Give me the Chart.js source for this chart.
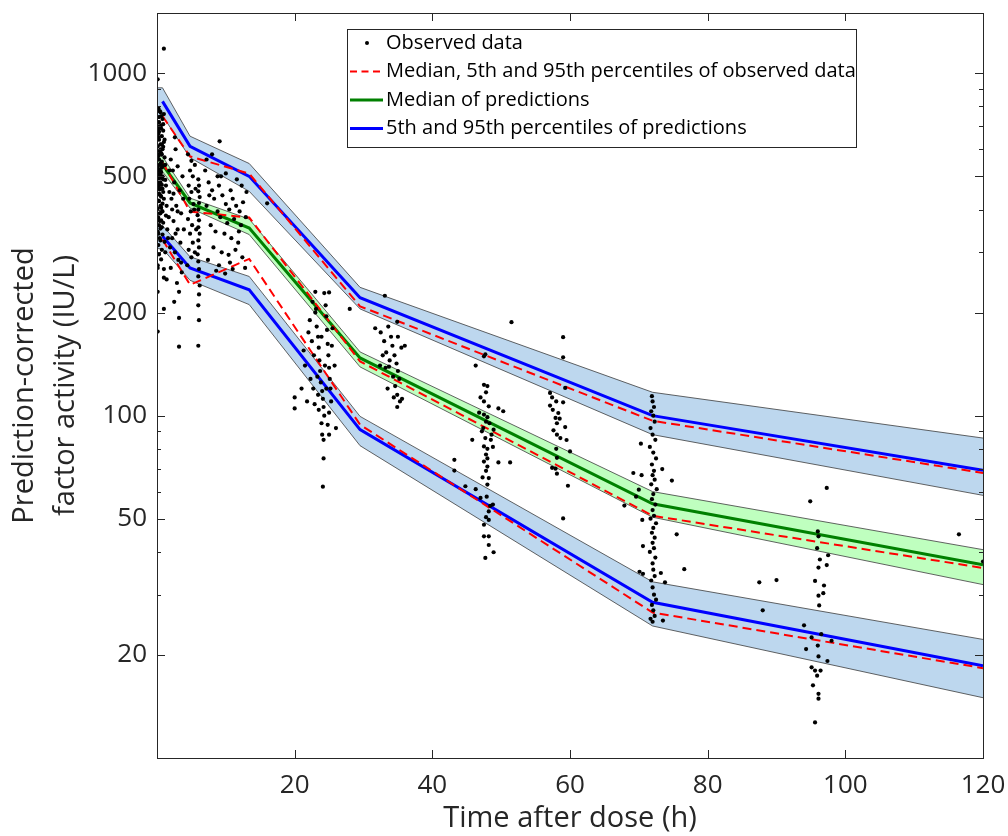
<!DOCTYPE html>
<html>
<head>
<meta charset="utf-8">
<title>VPC</title>
<script src="https://cdn.jsdelivr.net/npm/chart.js@4.4.1/dist/chart.umd.min.js"></script>
<style>
  html, body { margin: 0; padding: 0; background: #fff; }
  canvas { display: block; }
</style>
</head>
<body>
<canvas id="vpcChart" width="1008" height="836"></canvas>
<script>
// bins (h) where the percentile lines are computed
const binTimes = [0.8, 4.8, 13.4, 29.5, 72, 120];
// prediction percentiles
const predP95 = [828, 612, 500, 221, 100, 69.2];
const predP50 = [541, 418, 353, 147.4, 55.3, 36.7];
const predP05 = [334, 270, 233, 91, 28.5, 18.6];
// observed percentiles
const obsP95 = [749, 572, 509, 208.6, 96.6, 68.0];
const obsP50 = [550, 394.5, 379, 144, 51.0, 35.9];
const obsP05 = [327, 241, 287, 94.1, 26.6, 18.3];

// confidence intervals around the prediction percentiles
const bandTimes = [0, 0.8, 4.8, 13.4, 29.5, 72, 120];
const p95Hi = [907, 907, 655, 545, 237, 117, 86];
const p95Lo = [752, 752, 567, 452, 205, 88, 58.5];
const p50Hi = [571, 571, 432, 375, 153.5, 60, 40.6];
const p50Lo = [516, 516, 404, 338, 138.8, 50.5, 32.1];
const p05Hi = [359, 359, 291, 255, 99.5, 32.7, 22.2];
const p05Lo = [307.5, 307.5, 248.5, 211, 81.7, 24.3, 15.0];

// observed data [time, activity]
const obsEarly = [[0.2,790],[0.5,770],[0.3,745],[0.8,735],[0.1,720],[0.6,705],[0.4,690],[0.9,680],[0.2,665],[0.7,655],[0.3,640],[1.0,630],[0.5,620],[0.1,612],[0.8,600],[0.4,592],[0.6,585],[0.2,575],[1.1,568],[0.3,560],[0.7,552],[0.5,545],[0.9,538],[0.1,530],[0.4,522],[0.6,515],[0.2,508],[0.8,500],[0.3,494],[1.2,488],[0.5,480],[0.7,472],[0.1,465],[0.4,458],[0.9,450],[0.2,443],[0.6,436],[1.0,430],[0.3,423],[0.8,416],[0.5,410],[0.1,403],[0.7,396],[0.4,390],[1.3,384],[0.2,378],[0.6,372],[0.9,366],[0.3,360],[0.5,352],[0.1,345],[0.8,338],[0.4,330],[1.1,322],[0.2,315],[0.7,305],[0.3,296],[0.6,286],[0.1,275],[0.3,720],[0.6,690],[0.2,650],[0.5,600],[0.3,580],[0.7,530],[0.2,520],[0.4,505],[0.6,495],[0.3,470],[0.8,460],[0.5,440],[0.2,425],[0.6,405],[0.4,370],[0.7,355],[0.2,340],[0.5,325],[1.0,760],[0.9,610],[1.2,540],[1.3,470],[1.4,410],[1.5,350],[1.2,300],[1.0,268],[1.0,1180],[0.1,960],[0.1,270],[1.0,253],[1.0,205],[0.1,176],[0.1,230],[1.4,250],[0.4,775],[0.1,680],[0.7,620],[0.2,560],[0.5,510],[0.9,490],[0.1,480],[0.6,460],[0.3,445],[0.8,395],[0.1,380],[0.5,390],[0.4,540],[0.2,700],[0.6,750],[0.9,710],[0.3,675],[0.7,580],[1.1,640],[0.1,570]];
const obs3h = [[2.0,560],[2.3,520],[2.7,600],[3.0,535],[2.5,480],[3.3,455],[2.1,430],[2.8,410],[3.5,390],[2.4,370],[3.0,350],[2.2,330],[3.4,320],[2.6,300],[3.1,285],[2.0,270],[3.6,262],[2.9,244],[3.2,230],[2.5,215],[3.2,193],[3.2,159],[2.2,400],[1.8,450],[1.7,380],[3.8,430],[3.9,350],[3.7,500],[1.9,310],[2.6,650],[1.8,520],[2.4,445],[3.0,395],[1.6,330],[2.7,340],[3.5,280]];
const obs5h = [[4.5,580],[5.0,555],[4.8,520],[5.2,500],[4.6,470],[5.0,450],[4.7,430],[5.3,415],[4.9,395],[4.5,375],[5.1,360],[4.8,340],[5.2,320],[4.6,305],[5.0,290],[4.4,275],[6.0,490],[6.1,470],[6.0,452],[6.2,435],[6.1,418],[6.0,400],[5.9,385],[6.1,372],[6.0,355],[6.2,340],[6.0,325],[6.1,310],[5.9,296],[6.0,282],[6.1,268],[6.0,255],[6.2,240],[6.1,226],[6.0,210],[6.1,190],[6.0,160],[5.5,540],[5.6,460],[5.4,400],[5.7,350],[5.5,300]];
const obs12h = [[7.0,520],[7.5,480],[8.0,455],[8.3,430],[7.2,410],[8.8,395],[9.0,470],[9.5,440],[10.0,415],[10.5,400],[11.0,430],[11.5,410],[12.0,395],[12.5,420],[9.2,380],[10.2,365],[11.2,375],[12.2,360],[7.8,360],[8.5,345],[9.8,340],[10.8,330],[11.8,320],[8.2,310],[9.4,300],[10.4,295],[11.4,305],[12.4,290],[7.4,285],[9.0,275],[10.6,280],[8.6,265],[9.9,260],[11.0,268],[12.8,270],[9.1,633],[7.2,560],[8.0,580],[10.0,510],[11.6,490],[12.3,470],[13.0,450],[7.6,440],[9.3,500],[10.7,455],[8.8,500],[11.9,345],[12.9,380],[16.0,417]];
const obs24h = [[20.0,113],[20.0,105],[21.0,120],[21.3,155],[21.5,140],[22.0,175],[22.2,190],[22.5,165],[22.8,150],[23.0,200],[23.2,182],[23.4,170],[23.5,158],[23.6,145],[23.7,135],[23.8,125],[24.0,118],[24.1,112],[24.2,106],[24.3,100],[23.9,95],[24.0,88],[24.5,210],[24.6,195],[24.7,178],[24.8,162],[24.9,150],[25.0,138],[25.1,128],[25.2,120],[25.3,110],[25.0,102],[24.8,94],[25.4,160],[25.5,180],[25.8,140],[26.0,92],[25.0,88],[23.0,230],[22.6,215],[24.3,228],[25.0,229],[23.3,130],[22.7,120],[21.8,110],[23.5,104],[24.2,85],[24.2,75],[24.1,62],[22.3,128],[28.0,205],[23.1,205],[24.4,140],[23.9,170],[24.6,120],[23.4,115],[22.9,108]];
const obs34h = [[31.7,180],[32.5,175],[33.0,165],[33.3,153],[33.6,182],[34.0,170],[34.2,160],[34.5,150],[34.8,142],[35.0,135],[35.2,128],[35.5,158],[33.8,145],[33.2,138],[32.8,150],[34.3,130],[34.6,122],[34.9,115],[35.3,110],[33.5,120],[34.4,113],[35.6,112],[34.9,106],[33.1,224],[34.9,188],[36.0,160],[32.4,140],[33.7,139],[35.0,170]];
const obs48h = [[47.5,123],[48.0,122],[47.8,117],[47.0,113],[47.5,110],[48.2,106.5],[49.6,105],[50.3,103],[46.8,102],[47.5,100.7],[48.0,99],[47.8,96],[48.3,95],[48.9,91],[45.8,85],[47.7,86],[48.5,85],[47.5,81.3],[48.0,80],[48.8,81],[47.8,77],[48.0,75],[47.5,73.4],[49.6,73],[51.3,73],[48.0,71],[47.8,69],[48.2,65.7],[47.3,66],[48.0,62.9],[43.2,74.3],[43.2,69.1],[44.8,62.2],[46.3,61],[47.0,57.5],[48.4,54.5],[48.8,55],[48.2,52.5],[47.8,50.5],[48.2,49.6],[47.5,48],[47.5,44.4],[48.2,44.4],[48.2,41.9],[48.9,39.9],[47.7,38.4],[47.7,151],[47.5,149],[46.3,140],[51.5,187.5],[47.2,90],[48.6,88],[47.9,58],[47.4,92]];
const obs58h = [[59.0,169.5],[59.0,148],[59.3,120.5],[57.1,116.5],[57.4,113],[57.1,107],[58.0,110],[59.0,109.4],[58.3,101.8],[57.9,98.5],[58.5,98],[58.1,95],[59.3,92.6],[57.6,90.6],[58.1,88],[59.5,84.9],[58.0,80],[58.1,75.3],[60.0,78.6],[57.4,70.4],[57.9,70],[58.1,67.7],[59.7,62.4],[59.0,50.1],[57.5,104],[58.6,86]];
const obs72h = [[71.9,114],[72.0,110],[72.2,106],[71.8,103],[72.1,100],[72.3,96],[71.7,92],[72.0,88],[72.4,85],[71.6,81],[72.1,78],[72.5,75],[71.9,72],[72.2,69],[72.0,67],[72.3,65],[71.8,63],[72.6,61],[72.1,59],[71.9,57],[72.4,55],[72.0,53],[72.2,51],[71.7,50],[72.5,48.5],[72.1,47],[71.9,45.5],[72.3,44],[72.0,42.5],[72.2,41],[71.6,40],[72.4,38.5],[72.0,37],[72.1,35.5],[72.3,34],[71.8,33],[72.0,31.5],[72.2,30],[72.5,29],[71.9,28],[72.1,27],[72.3,26],[71.7,25.5],[72.0,25],[69.2,68],[70.4,67],[74.8,64.6],[70.3,82.8],[73.4,69.8],[75.5,45],[76.6,35.6],[70.1,35],[70.6,34.5],[73.2,34.7],[73.8,32.6],[73.5,25.2],[70.6,41.6],[70.5,49.6],[70.0,60.8],[69.6,58],[67.9,54.6]];
const obs96h = [[96.0,45.9],[96.1,44.4],[95.9,41],[97.5,39.1],[96.3,38],[97.3,36.6],[96.1,36],[95.6,32.9],[96.9,31.9],[96.8,30.3],[96.1,29.8],[96.2,27.9],[94.0,24.4],[95.1,22.5],[96.0,21.3],[94.3,20.8],[96.1,19.8],[97.4,19.2],[95.1,18.4],[95.6,18],[95.9,17.4],[96.4,18],[95.3,16.3],[96.1,15.4],[96.1,14.9],[95.6,12.7],[94.9,56.2],[97.3,61.5],[98.0,22],[96.5,23]];
const obsOther = [[87.5,32.6],[90.0,33.1],[88.0,27],[116.5,45],[120,37.5]];

// axis ticks
const xTicks = [20, 40, 60, 80, 100, 120];
const yTicks = [10, 20, 30, 40, 50, 60, 70, 80, 90, 100, 200, 300, 400, 500, 600, 700, 800, 900, 1000];
const yTickLabels = [20, 50, 100, 200, 500, 1000];

const legendLabels = ['Observed data', 'Median, 5th and 95th percentiles of observed data', 'Median of predictions', '5th and 95th percentiles of predictions'];

const TXT = '#262626';
const BLUE_BAND = 'rgb(189,215,238)';
const GREEN_BAND = 'rgb(191,255,191)';
const EDGE = '#3c3c3c';

function pts(times, vals) {
  return vals.map((v, i) => ({x: times[i], y: v}));
}

const observed = [].concat(obsEarly, obs3h, obs5h, obs12h, obs24h, obs34h, obs48h, obs58h, obs72h, obs96h, obsOther)
  .map(p => ({x: p[0], y: p[1]}));

function band(lo, hi, color) {
  return [
    {type: 'line', data: pts(bandTimes, lo), borderColor: EDGE, borderWidth: 0.8, pointRadius: 0, fill: false, order: 3},
    {type: 'line', data: pts(bandTimes, hi), borderColor: EDGE, borderWidth: 0.8, pointRadius: 0, fill: '-1', backgroundColor: color, order: 3}
  ];
}

function line(vals, color, dashed) {
  return {
    type: 'line', data: pts(binTimes, vals), borderColor: color,
    borderWidth: dashed ? 2 : 3, borderDash: dashed ? [9, 5] : [],
    pointRadius: 0, fill: false, order: dashed ? 1 : 2
  };
}

const datasets = [
  {type: 'scatter', label: legendLabels[0], data: observed, pointRadius: 2.1, pointBackgroundColor: '#000', pointBorderWidth: 0, order: 0},
  ...band(p95Lo, p95Hi, BLUE_BAND),
  ...band(p50Lo, p50Hi, GREEN_BAND),
  ...band(p05Lo, p05Hi, BLUE_BAND),
  line(predP95, '#0000ff', false),
  line(predP50, '#008000', false),
  line(predP05, '#0000ff', false),
  line(obsP95, '#ff0000', true),
  line(obsP50, '#ff0000', true),
  line(obsP05, '#ff0000', true)
];

// inward MATLAB-style ticks and the axes box
const boxTicks = {
  id: 'boxTicks',
  afterDraw(chart) {
    const {ctx, chartArea: a, scales: {x, y}} = chart;
    ctx.save();
    ctx.strokeStyle = TXT;
    ctx.lineWidth = 1;
    ctx.beginPath();
    x.ticks.forEach(t => {
      const px = Math.round(x.getPixelForValue(t.value)) + 0.5;
      ctx.moveTo(px, a.bottom); ctx.lineTo(px, a.bottom - 8);
      ctx.moveTo(px, a.top); ctx.lineTo(px, a.top + 8);
    });
    y.ticks.forEach(t => {
      const py = Math.round(y.getPixelForValue(t.value)) + 0.5;
      const len = yTickLabels.includes(t.value) ? 8 : 4;
      ctx.moveTo(a.left, py); ctx.lineTo(a.left + len, py);
      ctx.moveTo(a.right, py); ctx.lineTo(a.right - len, py);
    });
    ctx.stroke();
    ctx.strokeRect(Math.round(a.left) + 0.5, Math.round(a.top) + 0.5, Math.round(a.right - a.left), Math.round(a.bottom - a.top));
    ctx.restore();
  }
};

// boxed legend inside the plot
const boxLegend = {
  id: 'boxLegend',
  afterDraw(chart) {
    const ctx = chart.ctx;
    const bx = 347, by = 29, bw = 509, bh = 118;
    const rows = [43, 71.5, 100, 128.5];
    ctx.save();
    ctx.fillStyle = '#fff';
    ctx.fillRect(bx, by, bw, bh);
    ctx.strokeStyle = TXT;
    ctx.lineWidth = 1;
    ctx.strokeRect(bx + 0.5, by + 0.5, bw, bh);

    ctx.fillStyle = '#000';
    ctx.beginPath();
    ctx.arc(367, rows[0], 2, 0, Math.PI * 2);
    ctx.fill();

    const sym = [[rows[1], '#ff0000', 2, [7, 4.5]], [rows[2], '#008000', 3, []], [rows[3], '#0000ff', 3, []]];
    sym.forEach(([yy, c, w, d]) => {
      ctx.strokeStyle = c; ctx.lineWidth = w; ctx.setLineDash(d);
      ctx.beginPath(); ctx.moveTo(350, yy); ctx.lineTo(383, yy); ctx.stroke();
    });
    ctx.setLineDash([]);

    ctx.fillStyle = '#000';
    ctx.font = "20px 'Open Sans'";
    ctx.textBaseline = 'middle';
    ctx.textAlign = 'left';
    legendLabels.forEach((s, i) => ctx.fillText(s, 386, rows[i]));
    ctx.restore();
  }
};

// drop the half-label paddings Chart.js reserves so the plot box sits where the reference has it
function noPad(s) {
  s.paddingTop = 0; s.paddingBottom = 0; s.paddingLeft = 0; s.paddingRight = 0;
}

Chart.defaults.font.family = "'Open Sans', 'Noto Sans', sans-serif";
Chart.defaults.color = TXT;

new Chart(document.getElementById('vpcChart'), {
  type: 'scatter',
  data: {datasets: datasets},
  options: {
    responsive: false,
    animation: false,
    layout: {padding: {top: 13, right: 25, left: 0, bottom: 0}},
    plugins: {legend: {display: false}, tooltip: {enabled: false}},
    scales: {
      x: {
        type: 'linear', min: 0, max: 120,
        afterBuildTicks: s => { s.ticks = xTicks.map(v => ({value: v})); },
        afterFit: s => { s.height = 78; noPad(s); },
        grid: {display: false, drawTicks: false},
        border: {display: false},
        ticks: {font: {size: 26}, padding: 12, maxRotation: 0, autoSkip: false, color: TXT},
        title: {display: true, text: 'Time after dose (h)', font: {size: 29}, color: TXT, padding: {top: 0, bottom: 0}}
      },
      y: {
        type: 'logarithmic', min: 10, max: 1500,
        afterBuildTicks: s => { s.ticks = yTicks.map(v => ({value: v})); },
        afterFit: s => { s.width = 157; noPad(s); },
        grid: {display: false, drawTicks: false},
        border: {display: false},
        ticks: {
          font: {size: 26}, padding: 10, autoSkip: false, color: TXT,
          callback: v => yTickLabels.includes(v) ? String(v) : ''
        },
        title: {
          display: true, text: ['Prediction-corrected', 'factor activity (IU/L)'],
          font: {size: 29, lineHeight: 1.42}, color: TXT, padding: {top: 4, bottom: 0}
        }
      }
    }
  },
  plugins: [boxTicks, boxLegend]
});
</script>
</body>
</html>
